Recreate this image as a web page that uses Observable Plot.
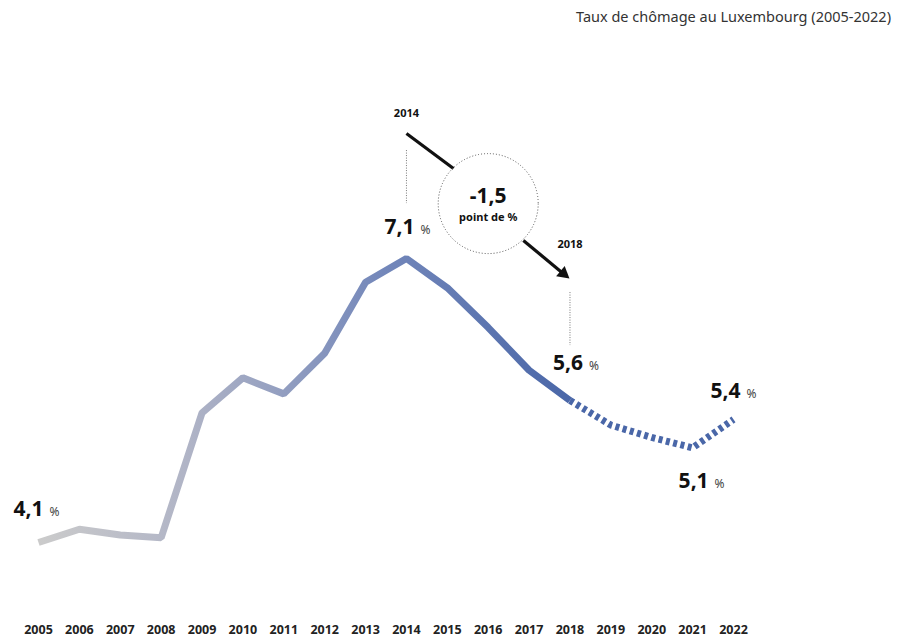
<!DOCTYPE html>
<html>
<head>
<meta charset="utf-8">
<script src="https://cdn.jsdelivr.net/npm/d3@7"></script>
<script src="https://cdn.jsdelivr.net/npm/@observablehq/plot@0.6"></script>
<style>
  html, body { margin: 0; padding: 0; background: #fff; overflow: hidden; }
  #wrap { position: relative; width: 899px; height: 639px; }
  #title { position: absolute; right: 8px; top: 7px; font: 14.5px "Noto Sans", sans-serif; color: #333; line-height: 18px; }
</style>
</head>
<body>
<div id="wrap"><div id="title">Taux de chômage au Luxembourg (2005-2022)</div></div>
<script>
// Data
const years = [2005, 2006, 2007, 2008, 2009, 2010, 2011, 2012, 2013, 2014, 2015, 2016, 2017, 2018, 2019, 2020, 2021, 2022];
const rates = [4.1, 4.24, 4.18, 4.15, 5.47, 5.84, 5.67, 6.1, 6.85, 7.1, 6.79, 6.37, 5.92, 5.6, 5.34, 5.21, 5.1, 5.4];
const lastObservedYear = 2018; // solid until here, dashed after
const labelYears = [2005, 2014, 2018, 2021, 2022];
const changeText = "-1,5";
const changeUnit = "point de %";
const fromYear = 2014, toYear = 2018;

const data = years.map((y, i) => ({year: y, rate: rates[i]}));
const solid = data.filter(d => d.year <= lastObservedYear);
const dashed = data.filter(d => d.year >= lastObservedYear);
const fmt = v => String(v).replace(".", ",");
const byYear = y => data.find(d => d.year === y);

// label placement (pixel offsets)
const labelOffsets = {2005: [-25, -27], 2014: [-22, -25], 2018: [-17, -31], 2021: [-14, 40], 2022: [-23, -21]};

const labelMarks = labelYears.flatMap(y => {
  const d = byYear(y);
  const [dx, dy] = labelOffsets[y];
  return [
    Plot.text([d], {x: "year", y: "rate", text: d => fmt(d.rate), dx, dy, textAnchor: "start", lineAnchor: "bottom",
      fontSize: 21, fontWeight: "bold", fill: "#111"}),
    Plot.text([d], {x: "year", y: "rate", text: () => "%", dx: dx + 36, dy, textAnchor: "start", lineAnchor: "bottom",
      fontSize: 12, fill: "#444"})
  ];
});

const chart = Plot.plot({
  width: 899,
  height: 639,
  marginLeft: 38,
  marginRight: 166,
  marginTop: 258,
  marginBottom: 97,
  style: {fontFamily: "'Noto Sans', sans-serif", background: "transparent", overflow: "visible"},
  x: {domain: [2005, 2022], axis: null},
  y: {domain: [4.1, 7.1], axis: null},
  marks: [
    Plot.axisX({ticks: years, tickFormat: d => String(d), label: null, tickSize: 0, tickPadding: 83, fontSize: 12.5, fontWeight: "bold", fill: "#222"}),
    // annotation: from 2014 to 2018
    Plot.ruleX([fromYear], {y1: 8.24, y2: 7.68, stroke: "#777", strokeDasharray: "1,1.5", strokeWidth: 1}),
    Plot.ruleX([toYear], {y1: 6.74, y2: 6.18, stroke: "#777", strokeDasharray: "1,1.5", strokeWidth: 1}),
    Plot.text([fromYear], {x: d => d, y: 8.59, text: d => String(d), lineAnchor: "bottom", fontSize: 11, fontWeight: "bold", fill: "#111"}),
    Plot.text([toYear], {x: d => d, y: 7.21, text: d => String(d), lineAnchor: "bottom", fontSize: 11, fontWeight: "bold", fill: "#111"}),
    Plot.link([0], {x1: 2014, y1: 8.42, x2: 2015.15, y2: 8.05, stroke: "#111", strokeWidth: 3.2}),
    Plot.link([0], {x1: 2016.86, y1: 7.29, x2: 2017.84, y2: 6.94, stroke: "#111", strokeWidth: 3.2}),
    Plot.dot([0], {x: 2017.84, y: 6.94, symbol: "triangle", r: 5, rotate: 129.5, fill: "#111", stroke: "none"}),
    Plot.dot([0], {x: 2016, y: 7.68, r: 50, stroke: "#555", strokeDasharray: "1,2", strokeWidth: 1, fill: "none"}),
    Plot.text([changeText], {x: 2016, y: 7.69, text: d => d, lineAnchor: "bottom", fontSize: 21, fontWeight: "bold", fill: "#111"}),
    Plot.text([changeUnit], {x: 2016, y: 7.5, text: d => d, lineAnchor: "bottom", fontSize: 11, fontWeight: "bold", fill: "#111"}),
    // lines
    Plot.line(solid, {x: "year", y: "rate", stroke: "url(#lineGrad)", strokeWidth: 7, strokeLinejoin: "miter", strokeLinecap: "butt"}),
    Plot.line(dashed, {x: "year", y: "rate", stroke: "#4a67a8", strokeWidth: 7, strokeDasharray: "4,3.5", strokeLinejoin: "miter", strokeLinecap: "butt"}),
    ...labelMarks
  ]
});

d3.select(chart).insert("defs", ":first-child").html(
  `<linearGradient id="lineGrad" x1="0" y1="0" x2="1" y2="0">
     <stop offset="0" stop-color="#cbcbcb"/>
     <stop offset="0.28" stop-color="#b0b4c6"/>
     <stop offset="0.65" stop-color="#7387ba"/>
     <stop offset="1" stop-color="#4a67a8"/>
   </linearGradient>`);

document.getElementById("wrap").insertBefore(chart, document.getElementById("title"));
</script>
</body>
</html>
